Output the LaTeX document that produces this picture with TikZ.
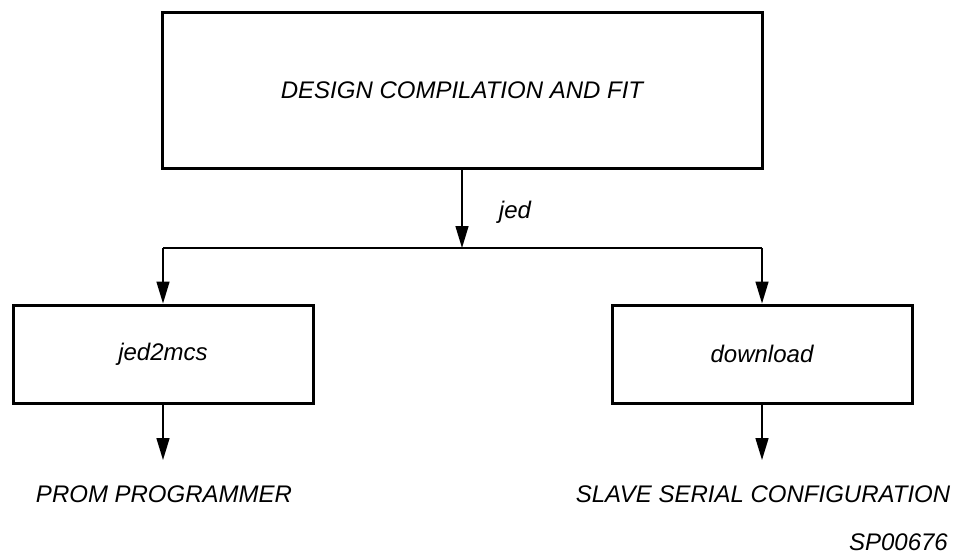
\documentclass[tikz,border=0pt]{standalone}
\usepackage{fontspec}
\setmainfont{Liberation Sans}
\usetikzlibrary{arrows.meta}
\begin{document}
\begin{tikzpicture}[x=1pt,y=-1pt,
  boxstyle/.style={draw, line width=3pt, inner sep=0pt, font=\fontsize{24}{28}\selectfont\itshape},
  lbl/.style={inner sep=0pt, font=\fontsize{24}{28}\selectfont\itshape},
  conn/.style={line width=1.5pt, -{Triangle[length=22pt,width=13pt]}},
  plain/.style={line width=1.5pt}]
\useasboundingbox (0,0) rectangle (960,557);
\node[boxstyle, minimum width=600pt, minimum height=156pt] (top) at (462,90) {DESIGN COMPILATION AND FIT};
\node[boxstyle, minimum width=300pt, minimum height=98pt] (left) at (163,354) {jed2mcs};
\node[boxstyle, minimum width=300pt, minimum height=98pt] (right) at (762,354) {download};
\coordinate (j) at (462,248);
\coordinate (jl) at (163,248);
\coordinate (jr) at (762,248);
\draw[conn] (top.south) -- (j);
\node[lbl] (jedlbl) at (515,212) {jed};
\draw[plain] (jl) -- (jr);
\draw[conn] (jl) -- (left.north);
\draw[conn] (jr) -- (right.north);
\coordinate (le) at (163,460);
\coordinate (re) at (762,460);
\draw[conn] (left.south) -- (le);
\draw[conn] (right.south) -- (re);
\node[lbl] (prom) at (164,494) {PROM PROGRAMMER};
\node[lbl] (slave) at (763,494) {SLAVE SERIAL CONFIGURATION};
\node[lbl, anchor=east] (sp) at (948,542) {SP00676};
\end{tikzpicture}
\end{document}
